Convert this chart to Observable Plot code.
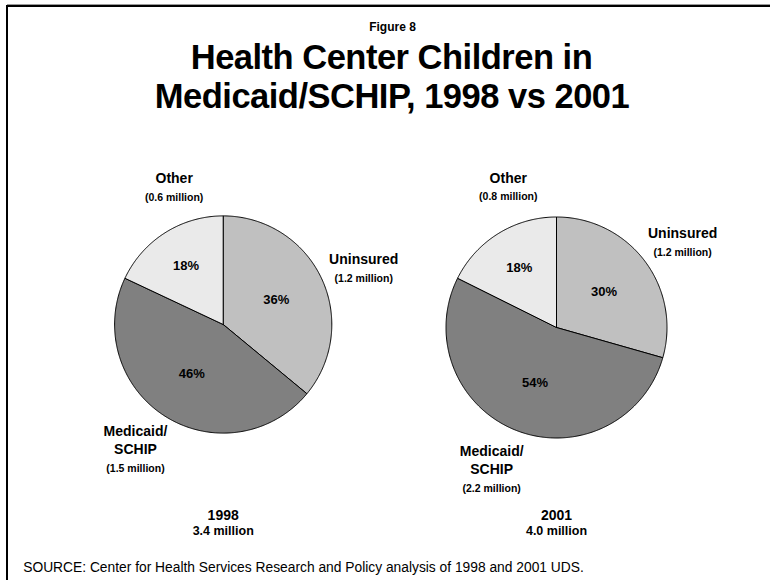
<!DOCTYPE html>
<html><head><meta charset="utf-8">
<script src="https://cdn.jsdelivr.net/npm/d3@7"></script>
<script src="https://cdn.jsdelivr.net/npm/@observablehq/plot@0.6"></script>
<style>
body{margin:0;background:#fff;}
#wrap{position:relative;width:770px;height:580px;overflow:hidden;background:#fff;}
#wrap svg{position:absolute;left:0;top:0;}
.frame{position:absolute;left:6px;top:5px;width:800px;height:600px;border-left:2px solid #000;border-top:2px solid #000;}
.frame2{position:absolute;left:7px;top:4px;width:800px;height:1px;background:#9a9a9a;}
</style></head>
<body><div id="wrap"></div>
<script>
// ---- data ----
const titleLines = ["Figure 8", "Health Center Children in", "Medicaid/SCHIP, 1998 vs 2001"];
const years = ["1998", "2001"];
const totalsMillion = [3.4, 4.0];
const categories = ["Uninsured", "Medicaid/\nSCHIP", "Other"];
const percent1998 = [36, 46, 18];
const percent2001 = [30, 54, 18];
const million1998 = [1.2, 1.5, 0.6];
const million2001 = [1.2, 2.2, 0.8];
const sourceNote = "SOURCE: Center for Health Services Research and Policy analysis of 1998 and 2001 UDS.";

// ---- style / layout ----
const sliceFill = {"Uninsured": "#c0c0c0", "Medicaid/\nSCHIP": "#808080", "Other": "#eaeaea"};
const pieLayout = [{cx: 222.7, cy: 324, r: 108.6}, {cx: 556, cy: 327, r: 110.5}];
const labelLayout = {
  "Uninsured": {turn: 0, out: 1.43, inner: 0.54},
  "Medicaid/\nSCHIP": {turn: 5, out: 1.33, inner: 0.54},
  "Other": {turn: 14, out: 1.43, inner: 0.64}
};
const font = "'Liberation Sans', Arial, Helvetica, sans-serif";

const percents = [percent1998, percent2001];
const millions = [million1998, million2001];
const pie = d3.pie().sort(null).value(d => d.pct);

const outline = [], pctLabels = [], nameLabels = [], subLabels = [], yearLabels = [];
years.forEach((year, i) => {
  const rows = categories.map((cat, j) => ({year, cat, pct: percents[i][j], mil: millions[i][j]}));
  const {cx, cy, r} = pieLayout[i];
  const pt = (a, rr) => [cx + rr * Math.sin(a), cy - rr * Math.cos(a)];
  pie(rows).forEach(s => {
    const key = year + "|" + s.data.cat;
    const span = s.endAngle - s.startAngle;
    const n = Math.max(2, Math.ceil(span / (Math.PI / 360)));
    const pts = [[cx, cy]];
    for (let k = 0; k <= n; k++) pts.push(pt(s.startAngle + span * k / n, r));
    pts.push([cx, cy]);
    pts.forEach(([x, y]) => outline.push({key, x, y, fill: sliceFill[s.data.cat]}));
    const mid = (s.startAngle + s.endAngle) / 2;
    const L = labelLayout[s.data.cat];
    const [px, py] = pt(mid, r * L.inner);
    pctLabels.push({x: px, y: py, text: s.data.pct + "%"});
    const [nx, ny] = pt(mid + L.turn * Math.PI / 180, r * L.out);
    const lines = s.data.cat.split("\n").length;
    nameLabels.push({x: nx, y: ny, text: s.data.cat, year});
    subLabels.push({x: nx, y: ny + (lines - 1) * 9 + 20, text: "(" + s.data.mil.toFixed(1) + " million)"});
  });
  yearLabels.push({x: cx, y: 515, text: year, size: 14});
  yearLabels.push({x: cx, y: 530.5, text: totalsMillion[i].toFixed(1) + " million", size: 12.5});
});

const chart = Plot.plot({
  width: 770, height: 580,
  margin: 0,
  x: {domain: [0, 770], range: [0, 770], axis: null},
  y: {domain: [0, 580], range: [0, 580], axis: null},
  color: {type: "identity"},
  style: {fontFamily: font, background: "transparent", color: "#000"},
  marks: [
    Plot.line(outline, {x: "x", y: "y", z: "key", fill: "fill", stroke: "#000", strokeWidth: 1, strokeLinejoin: "round"}),
    Plot.text(pctLabels, {x: "x", y: "y", text: "text", fontSize: 13, fontWeight: "bold", lineAnchor: "middle", fill: "#000"}),
    Plot.text(nameLabels, {x: "x", y: "y", text: "text", fontSize: 14, fontWeight: "bold", lineAnchor: "middle", lineHeight: 18 / 14, fill: "#000"}),
    Plot.text(subLabels, {x: "x", y: "y", text: "text", fontSize: 10.5, fontWeight: "bold", lineAnchor: "middle", fill: "#000"}),
    Plot.text(yearLabels, {x: "x", y: "y", text: "text", fontSize: d => d.size, fontWeight: "bold", lineAnchor: "middle", fill: "#000"}),
    Plot.text([titleLines[0]], {frameAnchor: "top", dx: 7, dy: 27, lineAnchor: "middle", fontSize: 12, fontWeight: "bold", fill: "#000"}),
    Plot.text([titleLines[1]], {frameAnchor: "top", dx: 6, dy: 57.5, lineAnchor: "middle", fontSize: 34.5, fontWeight: "bold", fill: "#000"}),
    Plot.text([titleLines[2]], {frameAnchor: "top", dx: 6.5, dy: 96.5, lineAnchor: "middle", fontSize: 34.5, fontWeight: "bold", fill: "#000"}),
    Plot.text([sourceNote], {frameAnchor: "bottom-left", dx: 22.7, dy: -13.3, textAnchor: "start", lineAnchor: "middle", fontSize: 13.8, fill: "#000"})
  ]
});

// tighten the big title a touch
d3.select(chart).selectAll("text").filter(function () {
  return this.textContent === titleLines[1] || this.textContent === titleLines[2];
}).style("letter-spacing", "-0.5px");

const wrap = document.getElementById("wrap");
wrap.appendChild(chart);
const f2 = document.createElement("div"); f2.className = "frame2"; wrap.appendChild(f2);
const f = document.createElement("div"); f.className = "frame"; wrap.appendChild(f);
</script>
</body></html>
